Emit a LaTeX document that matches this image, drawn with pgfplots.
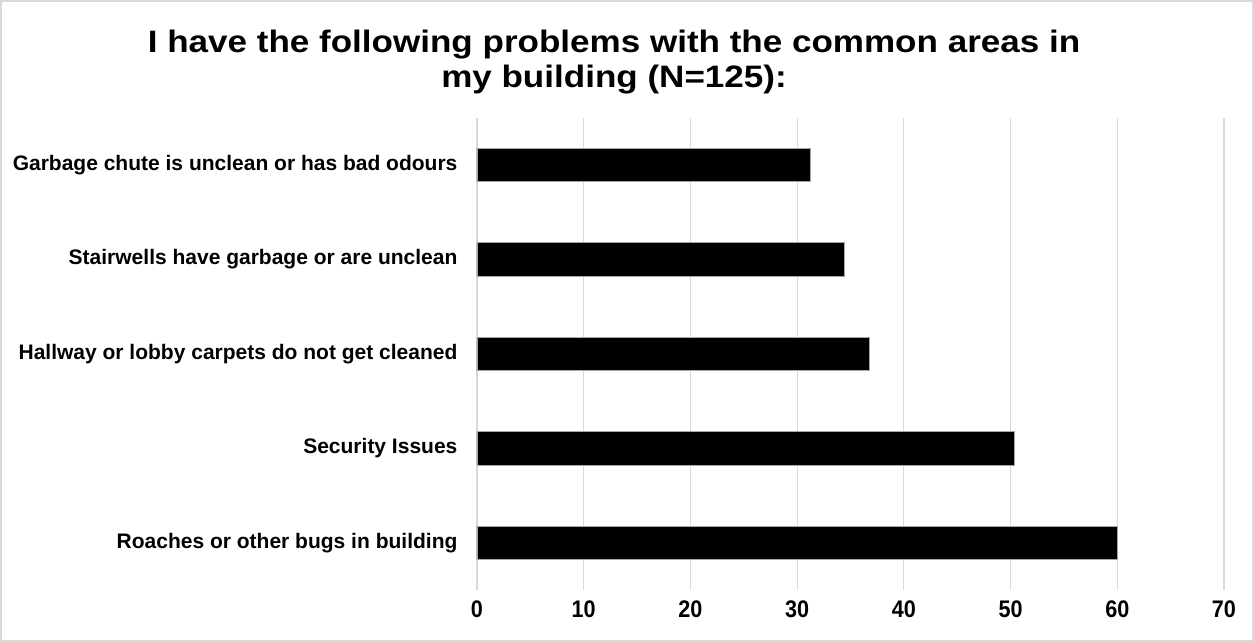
\documentclass[border=0pt]{standalone}
\usepackage{pgfplots}
\pgfplotsset{compat=1.18}
\usepackage{graphicx}
\usepackage{fontspec}
\setmainfont{Liberation Sans}
\definecolor{gridgray}{HTML}{D9D9D9}
\begin{document}
\begin{tikzpicture}[x=1pt,y=1pt]
\path[use as bounding box] (0,0) rectangle (627,321);
\draw[gridgray, line width=0.8pt] (0.5,0.5) rectangle (626.5,320.5);
\node[font=\bfseries\fontsize{15.5}{17.5}\selectfont] at (307,298.5) {\scalebox{1.13}[1]{I have the following problems with the common areas in}};
\node[font=\bfseries\fontsize{15.5}{17.5}\selectfont] at (307,281) {\scalebox{1.13}[1]{my building (N=125):}};
\begin{axis}[
  at={(238.5pt,26pt)}, anchor=south west,
  scale only axis, width=373.5pt, height=236pt,
  xmin=0, xmax=70, ymin=-0.5, ymax=4.5,
  xtick={0,10,...,70},
  ytick={0,1,2,3,4},
  yticklabels={Roaches or other bugs in building, Security Issues, Hallway or lobby carpets do not get cleaned, Stairwells have garbage or are unclean, Garbage chute is unclean or has bad odours},
  axis line style={draw=none},
  tick style={draw=none},
  xmajorgrids, major grid style={gridgray, line width=0.6pt},
  /pgf/number format/assume math mode=true,
  xticklabel={\scalebox{0.9}[1]{\pgfmathprintnumber{\tick}}},
  xticklabel style={font=\bfseries\fontsize{12}{14}\selectfont, yshift=-2pt},
  yticklabel style={font=\bfseries\fontsize{10.5}{12}\selectfont, xshift=-2pt},
  xbar, bar width=16.7pt,
]
\addplot[fill=black, draw=gray!70, line width=0.4pt] coordinates {(60,0) (50.4,1) (36.8,2) (34.4,3) (31.2,4)};
\end{axis}
\end{tikzpicture}
\end{document}
